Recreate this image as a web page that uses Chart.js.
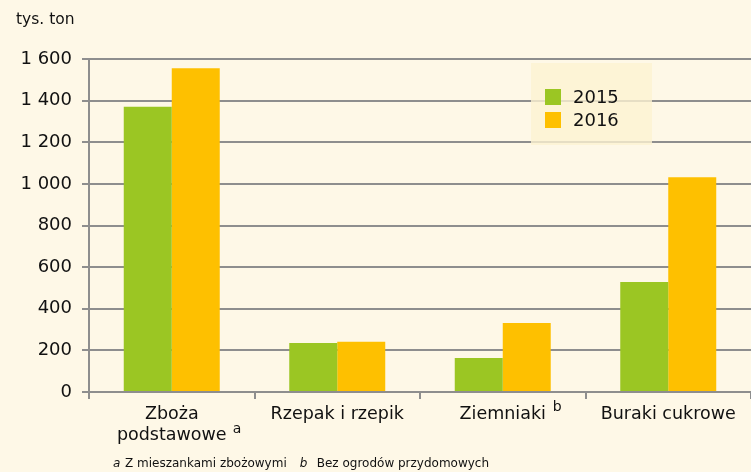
<!DOCTYPE html>
<html>
<head>
<meta charset="utf-8">
<script src="https://cdn.jsdelivr.net/npm/chart.js@4/dist/chart.umd.min.js"></script>
<style>
  html, body { margin: 0; padding: 0; background: #fef8e7; }
  #wrap { width: 751px; height: 472px; position: relative; }
</style>
</head>
<body>
<div id="wrap"><canvas id="chart" width="751" height="472"></canvas></div>
<script>
// dane
const categories = [["Zboża", "podstawowe"], "Rzepak i rzepik", "Ziemniaki", "Buraki cukrowe"];
const years = ["2015", "2016"];
const values2015 = [1370, 236, 163, 529];
const values2016 = [1555, 242, 331, 1032];
const yTicks = [0, 200, 400, 600, 800, 1000, 1200, 1400, 1600];
const unitLabel = "tys. ton";
const superscripts = ["a", null, "b", null];
const footnoteA = "Z mieszankami zbożowymi";
const footnoteB = "Bez ogrodów przydomowych";

const colors = ["#9bc623", "#fec000"];
const font = "'DejaVu Sans', sans-serif";

const fmt = v => String(v).replace(/\B(?=(\d{3})+(?!\d))/g, " ");

const extras = {
  id: "extras",
  beforeDraw(chart) {
    const ctx = chart.ctx;
    ctx.save();
    ctx.fillStyle = "#fef8e7";
    ctx.fillRect(0, 0, chart.width, chart.height);
    ctx.restore();
  },
  afterDraw(chart) {
    const ctx = chart.ctx;
    const x = chart.scales.x;
    ctx.save();
    ctx.fillStyle = "#111";
    ctx.textBaseline = "alphabetic";

    // jednostka
    ctx.font = "15.5px " + font;
    ctx.textAlign = "left";
    ctx.fillText(unitLabel, 16, 24);

    // indeksy górne
    ctx.font = "14px " + font;
    superscripts.forEach((s, i) => {
      if (!s) return;
      const cx = x.getPixelForTick(i);
      if (i === 0) ctx.fillText(s, cx + 61, 433);
      else ctx.fillText(s, cx + 50, 411);
    });

    // przypisy
    ctx.font = "italic 12px " + font;
    ctx.fillText("a", 113, 467);
    ctx.font = "12px " + font;
    ctx.fillText(footnoteA, 125, 467);
    let w = ctx.measureText(footnoteA).width;
    ctx.font = "italic 12px " + font;
    ctx.fillText("b", 125 + w + 13, 467);
    ctx.font = "12px " + font;
    ctx.fillText(footnoteB, 125 + w + 30, 467);

    // legenda
    const lx = 531, ly = 63, lw = 121, lh = 82;
    ctx.fillStyle = "rgba(253, 242, 210, 0.8)";
    ctx.fillRect(lx, ly, lw, lh);
    ctx.font = "18px " + font;
    ctx.textBaseline = "middle";
    chart.data.datasets.forEach((ds, i) => {
      const yy = 97 + i * 23;
      ctx.fillStyle = ds.backgroundColor;
      ctx.fillRect(545, yy - 8, 16, 16);
      ctx.fillStyle = "#111";
      ctx.fillText(ds.label, 573, yy + 1);
    });
    ctx.restore();
  }
};

new Chart(document.getElementById("chart"), {
  type: "bar",
  data: {
    labels: categories,
    datasets: [
      { label: years[0], data: values2015, backgroundColor: colors[0] },
      { label: years[1], data: values2016, backgroundColor: colors[1] }
    ]
  },
  options: {
    responsive: false,
    animation: false,
    layout: { padding: { top: 59, right: 0, left: 0, bottom: 0 } },
    datasets: {
      bar: { categoryPercentage: 0.58, barPercentage: 1.0 }
    },
    plugins: {
      legend: { display: false },
      tooltip: { enabled: false }
    },
    scales: {
      x: {
        afterFit: s => { s.height = 80; },
        grid: {
          offset: true,
          drawOnChartArea: false,
          color: "#8e8e8e",
          lineWidth: 2,
          tickLength: 7
        },
        border: { color: "#8e8e8e", width: 2 },
        ticks: {
          color: "#111",
          font: { family: font, size: 17.5 },
          padding: 5,
          maxRotation: 0
        }
      },
      y: {
        min: 0,
        max: 1600,
        afterFit: s => { s.width = 89; },
        afterBuildTicks: s => { s.ticks = yTicks.map(v => ({ value: v })); },
        grid: {
          color: "#8e8e8e",
          lineWidth: 2,
          tickLength: 7
        },
        border: { color: "#8e8e8e", width: 2 },
        ticks: {
          color: "#111",
          font: { family: font, size: 18 },
          padding: 10,
          callback: v => fmt(v)
        }
      }
    }
  },
  plugins: [extras]
});
</script>
</body>
</html>
